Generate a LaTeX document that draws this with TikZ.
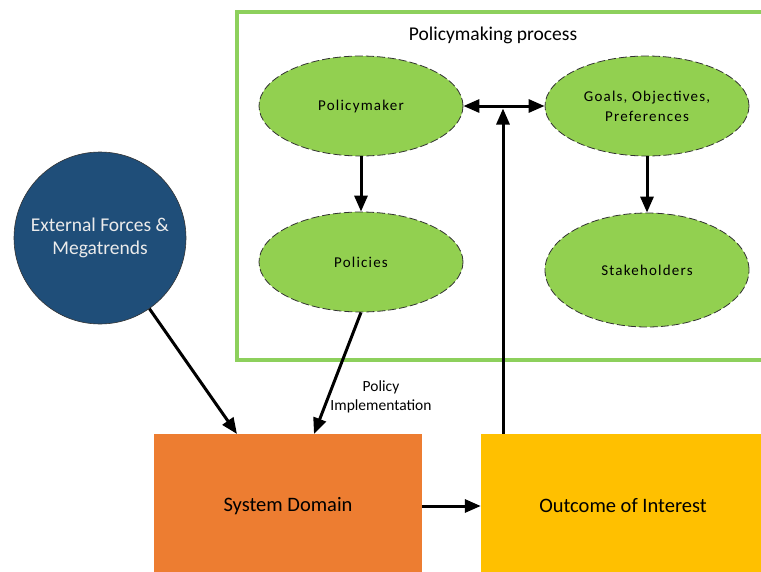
\documentclass[tikz,border=0pt]{standalone}
\usepackage{fontspec}
\setmainfont{Carlito}
\usetikzlibrary{arrows.meta,shapes.geometric}
\definecolor{leafgreen}{HTML}{92D050}
\definecolor{framegreen}{HTML}{8DD05C}
\definecolor{navyblue}{HTML}{1F4E79}
\definecolor{sysorange}{HTML}{ED7D31}
\definecolor{outyellow}{HTML}{FFC000}
\begin{document}
\begin{tikzpicture}[x=1pt,y=-1pt,
    oval/.style={ellipse,draw=black!80,dash pattern=on 8pt off 3pt,line width=0.8pt,
      fill=leafgreen,minimum width=204,minimum height=100,inner sep=0pt,align=center,
      font=\fontsize{15}{20}\selectfont\addfontfeatures{LetterSpace=8}},
    block/.style={rectangle,inner sep=0pt,font=\fontsize{20.5}{24}\selectfont},
    arr/.style={line width=3pt,-{Triangle[length=16pt,width=13pt]}}]
  \useasboundingbox (0,0) rectangle (761,571);
  \clip (0,0) rectangle (761,571);
  \draw[framegreen,line width=3.5pt] (237,12) rectangle (775,360);
  \node[font=\fontsize{19.5}{22}\selectfont] (title) at (493,35) {Policymaking process};
  \node[oval] (pm) at (361,106) {Policymaker};
  \node[oval] (pol) at (361,262) {Policies};
  \node[oval] (goals) at (647,106) {Goals, Objectives,\\Preferences};
  \node[oval,minimum height=114] (stake) at (647,270) {Stakeholders};
  \node[circle,draw=black!80,line width=0.6pt,fill=navyblue,text=black!8,minimum size=172,
    inner sep=0pt,align=center,font=\fontsize{19.5}{23}\selectfont] (ext) at (100,238) {External Forces \&\\Megatrends};
  \node[block,fill=sysorange,minimum width=268,minimum height=144] (sys) at (288,506) {System Domain};
  \node[block,fill=outyellow,minimum width=284,minimum height=144] (out) at (623,506) {Outcome of Interest};
  \coordinate (sdin1) at (237,434);
  \coordinate (sdin2) at (314,434);
  \coordinate (jn) at (503,107);
  \draw[arr] (pm) -- (pol);
  \draw[arr] (goals) -- (stake);
  \draw[line width=3pt,{Triangle[length=16pt,width=13pt]}-{Triangle[length=16pt,width=13pt]}] (pm.east) -- (goals.west);
  \draw[arr,shorten >=1.5pt] (out.north -| jn) -- (jn);
  \draw[arr] (ext) -- (sdin1);
  \draw[arr] (pol.south) -- (sdin2);
  \draw[arr] (sys.east) -- (out.west);
  \node[align=center,font=\fontsize{15.5}{19}\selectfont] (impl) at (381,397) {Policy\\Implementation};
\end{tikzpicture}
\end{document}
